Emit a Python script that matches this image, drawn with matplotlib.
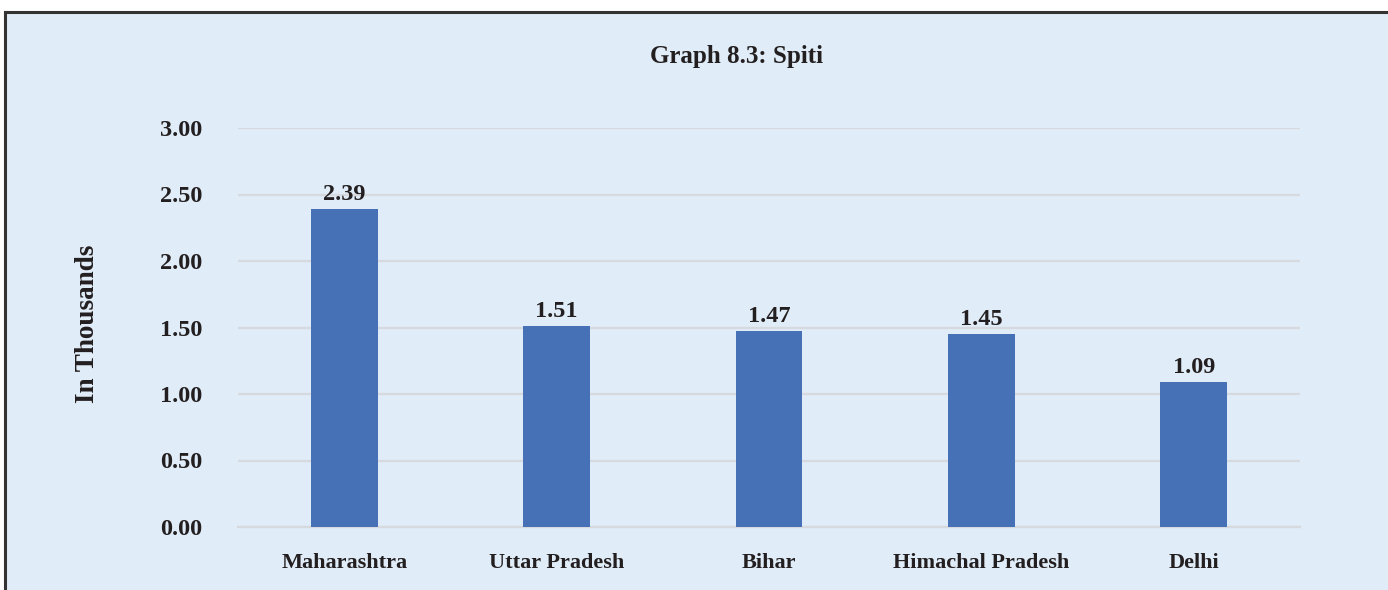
import matplotlib
matplotlib.use("Agg")
import matplotlib.pyplot as plt
from matplotlib.patches import Rectangle
from matplotlib.lines import Line2D

states = ["Maharashtra", "Uttar Pradesh", "Bihar", "Himachal Pradesh", "Delhi"]
values = [2.39, 1.51, 1.47, 1.45, 1.09]
yticks = [0.0, 0.5, 1.0, 1.5, 2.0, 2.5, 3.0]

W, H = 1388, 590
bg = "#e0ecf7"
bar_color = "#4771b7"
grid_color = "#d6d9dd"
text_color = "#231f20"

plt.rcParams["font.family"] = ["Liberation Serif", "DejaVu Serif"]

fig = plt.figure(figsize=(W / 100, H / 100), dpi=100, facecolor="white")

# light blue panel with a dark frame on top and left
fig.patches.append(Rectangle((5 / W, 0), 1, 1 - 11 / H, transform=fig.transFigure,
                             facecolor=bg, edgecolor="none", zorder=-1))
fig.lines.append(Line2D([4.5 / W, 1], [1 - 11.5 / H] * 2, transform=fig.transFigure,
                        color="#333333", lw=2.2))
fig.lines.append(Line2D([4.5 / W] * 2, [0, 1 - 11.5 / H], transform=fig.transFigure,
                        color="#333333", lw=2.2))

ax = fig.add_axes([238 / W, 1 - 527 / H, (1300 - 238) / W, (527 - 128) / H])
ax.set_facecolor("none")

x = range(len(states))
bars = ax.bar(x, values, width=0.315, color=bar_color, zorder=3)
for b, v in zip(bars, values):
    ax.annotate(f"{v:.2f}", (b.get_x() + b.get_width() / 2, v), xytext=(0, 3),
                textcoords="offset points", ha="center", va="bottom",
                fontsize=17.5, fontweight="bold", color=text_color)

ax.set_xlim(-0.5, len(states) - 0.5)
ax.set_ylim(0, 3.0)
ax.set_yticks(yticks)
ax.set_yticklabels([f"{t:.2f}" for t in yticks])
ax.set_xticks(list(x))
ax.set_xticklabels(states)
ax.yaxis.grid(True, color=grid_color, lw=1.6, zorder=0)
ax.set_axisbelow(True)
for s in ["top", "right", "left"]:
    ax.spines[s].set_visible(False)
ax.spines["bottom"].set_color(grid_color)
ax.spines["bottom"].set_linewidth(1.6)
ax.tick_params(axis="y", length=0, labelsize=17.5, labelcolor=text_color, pad=26)
ax.tick_params(axis="x", length=0, labelsize=16, labelcolor=text_color, pad=19)
for lab in ax.get_xticklabels() + ax.get_yticklabels():
    lab.set_fontweight("bold")

fig.text(88 / W, 1 - 324 / H, "In Thousands", rotation=90, ha="center", va="center",
         fontsize=19.5, fontweight="bold", color=text_color)
fig.text(736 / W, 1 - 56 / H, "Graph 8.3: Spiti", ha="center", va="center",
         fontsize=18, fontweight="bold", color=text_color)

fig.savefig("out.png", dpi=100, facecolor="white")
